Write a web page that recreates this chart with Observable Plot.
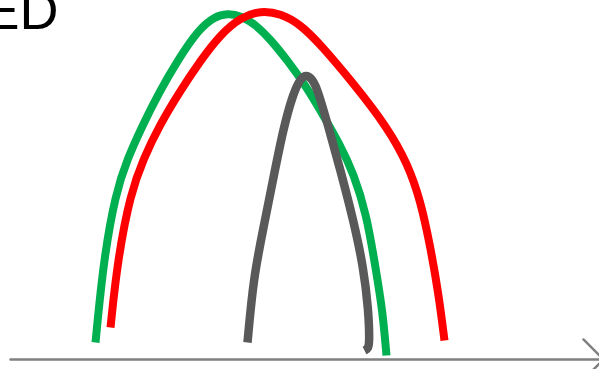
<!DOCTYPE html>
<html>
<head>
<meta charset="utf-8">
<script src="https://cdn.jsdelivr.net/npm/d3@7"></script>
<script src="https://cdn.jsdelivr.net/npm/@observablehq/plot@0.6"></script>
<style>
  html, body { margin: 0; padding: 0; background: #fff; overflow: hidden; }
  #chart svg { overflow: hidden; display: block; }
</style>
</head>
<body>
<div id="chart"></div>
<script>
// Positions along the horizontal axis and heights above the baseline
const greenX = [95, 103, 115, 127, 142, 158, 177, 198, 214, 227, 240, 255, 270, 287, 305, 320, 340, 353, 366, 376, 382, 386];
const greenY = [17, 99, 166, 201, 234, 266, 299, 330, 343, 346, 344, 335, 320, 299, 274, 249, 214, 186, 146, 86, 49, 4];

const redX = [110, 117, 130, 143, 159, 178, 200, 220, 240, 260, 280, 300, 320, 353, 387, 407, 420, 430, 438, 444];
const redY = [32, 99, 166, 201, 234, 266, 299, 325, 342, 349, 346, 335, 315, 276, 232, 196, 159, 112, 66, 19];

const grayX = [247, 253, 263, 273, 283, 293, 300, 306, 312, 317, 327, 340, 353, 363, 368, 369, 368, 364];
const grayY = [17, 82, 132, 182, 232, 267, 281, 285, 280, 270, 236, 189, 139, 92, 49, 19, 11, 9];

const titleText = "ED";
const axisStart = 10;
const axisEnd = 603;

const toRows = (xs, ys) => xs.map((x, i) => ({x, y: ys[i]}));
const green = toRows(greenX, greenY);
const red = toRows(redX, redY);
const gray = toRows(grayX, grayY);

const chart = Plot.plot({
  width: 599,
  height: 369,
  marginTop: 0,
  marginLeft: 0,
  marginRight: 0,
  marginBottom: 10,
  x: {domain: [0, 599], axis: null},
  y: {domain: [0, 359], axis: null},
  style: {background: "#fff", overflow: "hidden"},
  marks: [
    Plot.arrow([{x1: axisStart, x2: axisEnd, y: 0}], {
      x1: "x1", x2: "x2", y1: "y", y2: "y",
      stroke: "#808080", strokeWidth: 2.5, headLength: 17, headAngle: 90, bend: 0
    }),
    Plot.line(green, {x: "x", y: "y", stroke: "#00b050", strokeWidth: 8, curve: "basis", strokeLinecap: "butt"}),
    Plot.line(red, {x: "x", y: "y", stroke: "#ff0000", strokeWidth: 8, curve: "basis", strokeLinecap: "butt"}),
    Plot.line(gray, {x: "x", y: "y", stroke: "#595959", strokeWidth: 8.5, curve: "basis", strokeLinecap: "butt"}),
    Plot.text([titleText], {
      text: d => d, frameAnchor: "top-left", textAnchor: "end", lineAnchor: "bottom",
      dx: 58, dy: 28, fontSize: 54, fill: "#000", fontFamily: "Liberation Sans, Arial, sans-serif"
    })
  ]
});
document.getElementById("chart").appendChild(chart);
</script>
</body>
</html>
